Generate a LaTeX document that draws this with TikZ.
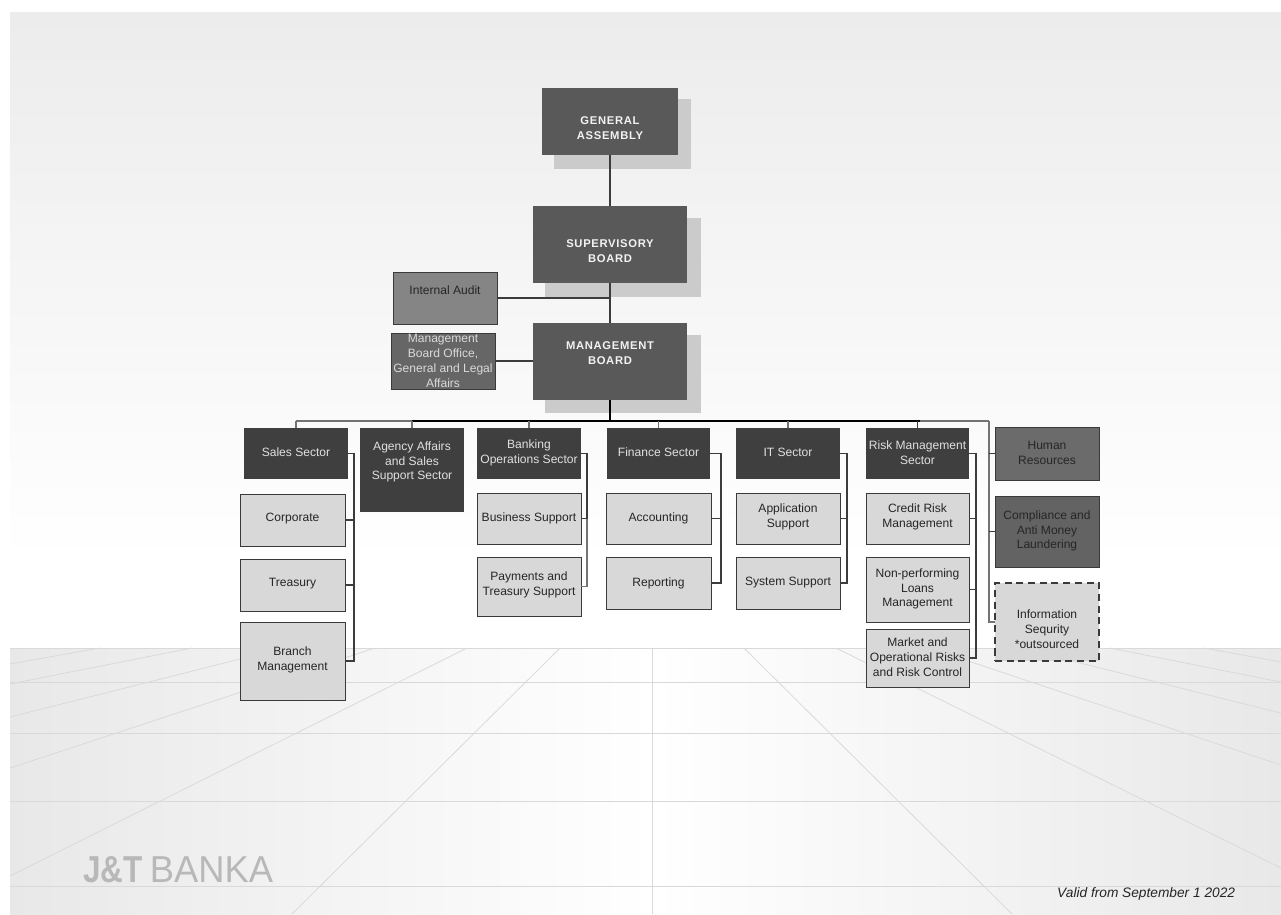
\documentclass[tikz,border=0pt]{standalone}
\usepackage{fontspec}
\usepackage{graphicx}
\setmainfont{Liberation Sans}
\usetikzlibrary{calc}
\definecolor{sectorc}{HTML}{3F3F3F}
\definecolor{boardc}{HTML}{595959}
\definecolor{shadowc}{HTML}{CBCBCB}
\definecolor{lightc}{HTML}{D8D8D8}
\definecolor{auditc}{HTML}{858585}
\definecolor{midc}{HTML}{666666}
\definecolor{hrc}{HTML}{6B6B6B}
\definecolor{compc}{HTML}{636363}
\definecolor{edgec}{HTML}{3A3A3A}
\definecolor{floorline}{HTML}{D9D9D9}
\definecolor{connc}{HTML}{3C3C3C}
\tikzset{
  boxbase/.style={rectangle,inner sep=0pt,outer sep=0pt},
  board/.style={boxbase,fill=boardc},
  sector/.style={boxbase,fill=sectorc},
  unit/.style={boxbase,fill=lightc,draw=edgec,line width=0.85pt},
  audit/.style={boxbase,fill=auditc,draw=edgec,line width=0.85pt},
  office/.style={boxbase,fill=midc,draw=edgec,line width=0.85pt},
  staffhr/.style={boxbase,fill=hrc,draw=edgec,line width=0.85pt},
  staffcomp/.style={boxbase,fill=compc,draw=edgec,line width=0.85pt},
  outsourced/.style={boxbase,fill=lightc,draw=edgec,line width=0.9pt,dash pattern=on 6pt off 4pt},
  txt/.style={align=center,inner sep=0pt,font=\fontsize{10.3}{12.6}\selectfont,text=#1},
  txt/.default=black!85,
  boldtxt/.style={align=center,inner sep=0pt,text=white!95!black,font=\fontsize{9.6}{12.2}\selectfont\bfseries\addfontfeature{LetterSpace=6}},
  conn/.style={draw=connc,line width=0.9pt},
  greyconn/.style={draw=black!55,line width=0.9pt},
  heavy/.style={draw=black,line width=1.4pt},
  floorh/.style={draw=floorline,line width=0.85pt},
  floorp/.style={draw=floorline,line width=0.65pt},
}
% name, x1, y1, x2, y2, box style, text y, text style, text
\newcommand{\orgbox}[9]{%
  \pgfmathsetmacro{\bw}{#4-#2}\pgfmathsetmacro{\bh}{#5-#3}%
  \pgfmathsetmacro{\bx}{(#2+#4)/2}\pgfmathsetmacro{\by}{(#3+#5)/2}%
  \node[#6,minimum width=\bw*0.03cm,minimum height=\bh*0.03cm] (#1) at (\bx,\by) {};
  \node[#8] (#1-t) at (\bx,#7) {#9};
}
\begin{document}
\begin{tikzpicture}[x=0.03cm,y=-0.03cm]
\useasboundingbox (0,0) rectangle (1281,914);
\fill[white] (0,0) rectangle (1281,914);
% wall
\shade[top color=black!7.5,bottom color=white] (10,12) rectangle (1281,560);
\fill[white] (10,560) rectangle (1281,648);
% floor
\shade[left color=black!9,right color=white] (10,648) rectangle (652,914);
\shade[left color=white,right color=black!9] (652,648) rectangle (1281,914);
% floor grid
\foreach \yy in {648,682,733,801,886} \draw[floorh] (10,\yy) -- (1281,\yy);
\draw[floorh] (652,648) -- (652,914);
\draw[floorp] (100,648) -- (10,664);
\draw[floorp] (192,648) -- (10,684);
\draw[floorp] (284,648) -- (10,717);
\draw[floorp] (375,648) -- (10,768);
\draw[floorp] (467,648) -- (10,876);
\draw[floorp] (560,648) -- (292,914);
\draw[floorp] (744,648) -- (1012,914);
\draw[floorp] (836,648) -- (1281,868);
\draw[floorp] (929,648) -- (1281,765);
\draw[floorp] (1020,648) -- (1281,713);
\draw[floorp] (1110,648) -- (1281,682);
\draw[floorp] (1204,648) -- (1281,662);
% shadows
\fill[shadowc] (554,99) rectangle (691,169);
\fill[shadowc] (545,218) rectangle (701,297);
\fill[shadowc] (545,335) rectangle (701,413);
% boxes
\orgbox{ga}{542}{88}{678}{155}{board}{128}{boldtxt}{GENERAL\\ASSEMBLY}
\orgbox{sb}{533}{206}{687}{283}{board}{251}{boldtxt}{SUPERVISORY\\BOARD}
\orgbox{mb}{533}{323}{687}{400}{board}{353}{boldtxt}{MANAGEMENT\\BOARD}
\orgbox{ia}{393}{272}{497}{324}{audit}{290}{txt}{Internal Audit}
\orgbox{mbo}{391}{333}{495}{389}{office}{361}{txt={white!85!black}}{Management\\Board Office,\\General and Legal\\Affairs}
\orgbox{sales}{244}{428}{348}{479}{sector}{452}{txt=white!88!black}{Sales Sector}
\orgbox{agency}{360}{428}{464}{512}{sector}{462}{txt=white!88!black}{Agency Affairs\\and Sales\\Support Sector}
\orgbox{banking}{477}{428}{581}{479}{sector}{453}{txt=white!88!black}{Banking\\Operations Sector}
\orgbox{finance}{607}{428}{710}{479}{sector}{452}{txt=white!88!black}{Finance Sector}
\orgbox{it}{736}{428}{840}{479}{sector}{452}{txt=white!88!black}{IT Sector}
\orgbox{risk}{866}{428}{969}{479}{sector}{453}{txt=white!88!black}{Risk Management\\Sector}
\orgbox{corp}{240}{494}{345}{546}{unit}{519}{txt}{Corporate}
\orgbox{treas}{240}{559}{345}{611}{unit}{584}{txt}{Treasury}
\orgbox{branch}{240}{622}{345}{700}{unit}{660}{txt}{Branch\\Management}
\orgbox{busi}{477}{493}{581}{544}{unit}{518}{txt}{Business Support}
\orgbox{pay}{477}{557}{581}{616}{unit}{585}{txt}{Payments and\\Treasury Support}
\orgbox{acc}{606}{493}{711}{544}{unit}{518}{txt}{Accounting}
\orgbox{rep}{606}{557}{711}{609}{unit}{583}{txt}{Reporting}
\orgbox{app}{736}{493}{840}{544}{unit}{517}{txt}{Application\\Support}
\orgbox{sys}{736}{557}{840}{609}{unit}{583}{txt}{System Support}
\orgbox{credit}{866}{493}{969}{544}{unit}{517}{txt}{Credit Risk\\Management}
\orgbox{npl}{866}{557}{969}{622}{unit}{589}{txt}{Non-performing\\Loans\\Management}
\orgbox{market}{866}{629}{969}{687}{unit}{657}{txt}{Market and\\Operational Risks\\and Risk Control}
\orgbox{hr}{995}{427}{1099}{480}{staffhr}{453}{txt}{Human\\Resources}
\orgbox{comp}{995}{496}{1099}{567}{staffcomp}{531}{txt}{Compliance and\\Anti Money\\Laundering}
\orgbox{info}{995}{583}{1099}{661}{outsourced}{629}{txt}{Information\\Sequrity\\*outsourced}
% bus coordinates
\coordinate (busl) at (296,421);
\coordinate (busr) at (989,421);
% top connectors
\draw[conn] (ga.south) -- (sb.north);
\draw[conn] (sb.south) -- (mb.north);
\draw[conn] (ia.east |- 0,298) -- (610,298);
\draw[conn] (mbo.east) -- (mb.west |- mbo.east);
\draw[heavy] (mb.south) -- (mb.south |- busl);
% bus
\draw[greyconn] (busl) -- (sales.north);
\draw[greyconn] (busl) -- (412,421);
\draw[heavy] (412,421) -- (920,421);
\draw[greyconn] (920,421) -- (busr);
\draw[greyconn] (agency.north) -- (agency.north |- busl);
\draw[greyconn] (banking.north) -- (banking.north |- busl);
\draw[greyconn] (finance.north) -- (finance.north |- busl);
\draw[greyconn] (it.north) -- (it.north |- busl);
\draw[conn] (risk.north) -- (risk.north |- busl);
% staff bracket
\draw[greyconn] (busr) -- (busr |- info.west) -- (info.west);
\draw[conn] (busr |- hr.west) -- (hr.west);
\draw[conn] (busr |- comp.west) -- (comp.west);
% sector brackets
\coordinate (bs) at (354,0);
\coordinate (bb) at (587,0);
\coordinate (bf) at (721,0);
\coordinate (bi) at (847,0);
\coordinate (br) at (976,0);
\draw[conn] (sales.east) -- (sales.east -| bs) -- (branch.east -| bs) -- (branch.east);
\draw[conn] (corp.east) -- (corp.east -| bs);
\draw[conn] (treas.east) -- (treas.east -| bs);
\draw[conn] (banking.east) -- (banking.east -| bb) -- (busi.east -| bb);
\draw[greyconn] (busi.east -| bb) -- (pay.east -| bb) -- (pay.east);
\draw[conn] (busi.east) -- (busi.east -| bb);
\draw[conn] (finance.east) -- (finance.east -| bf) -- (rep.east -| bf) -- (rep.east);
\draw[conn] (acc.east) -- (acc.east -| bf);
\draw[conn] (it.east) -- (it.east -| bi) -- (sys.east -| bi) -- (sys.east);
\draw[conn] (app.east) -- (app.east -| bi);
\draw[conn] (risk.east) -- (risk.east -| br) -- (market.east -| br) -- (market.east);
\draw[conn] (credit.east) -- (credit.east -| br);
\draw[conn] (npl.east) -- (npl.east -| br);
% logo and date
\node[anchor=base west,inner sep=0pt,text=black!28,font=\fontsize{32}{32}\selectfont] (logo) at (83,882)
  {\scalebox{0.84}[1]{\bfseries J\&T}\hspace{6pt}\scalebox{0.97}[1]{BANKA}};
\node[anchor=base west,inner sep=0pt,text=black!85,font=\fontsize{11.7}{13}\selectfont\itshape] (valid) at (1057,897) {Valid from September 1 2022};
\end{tikzpicture}
\end{document}
